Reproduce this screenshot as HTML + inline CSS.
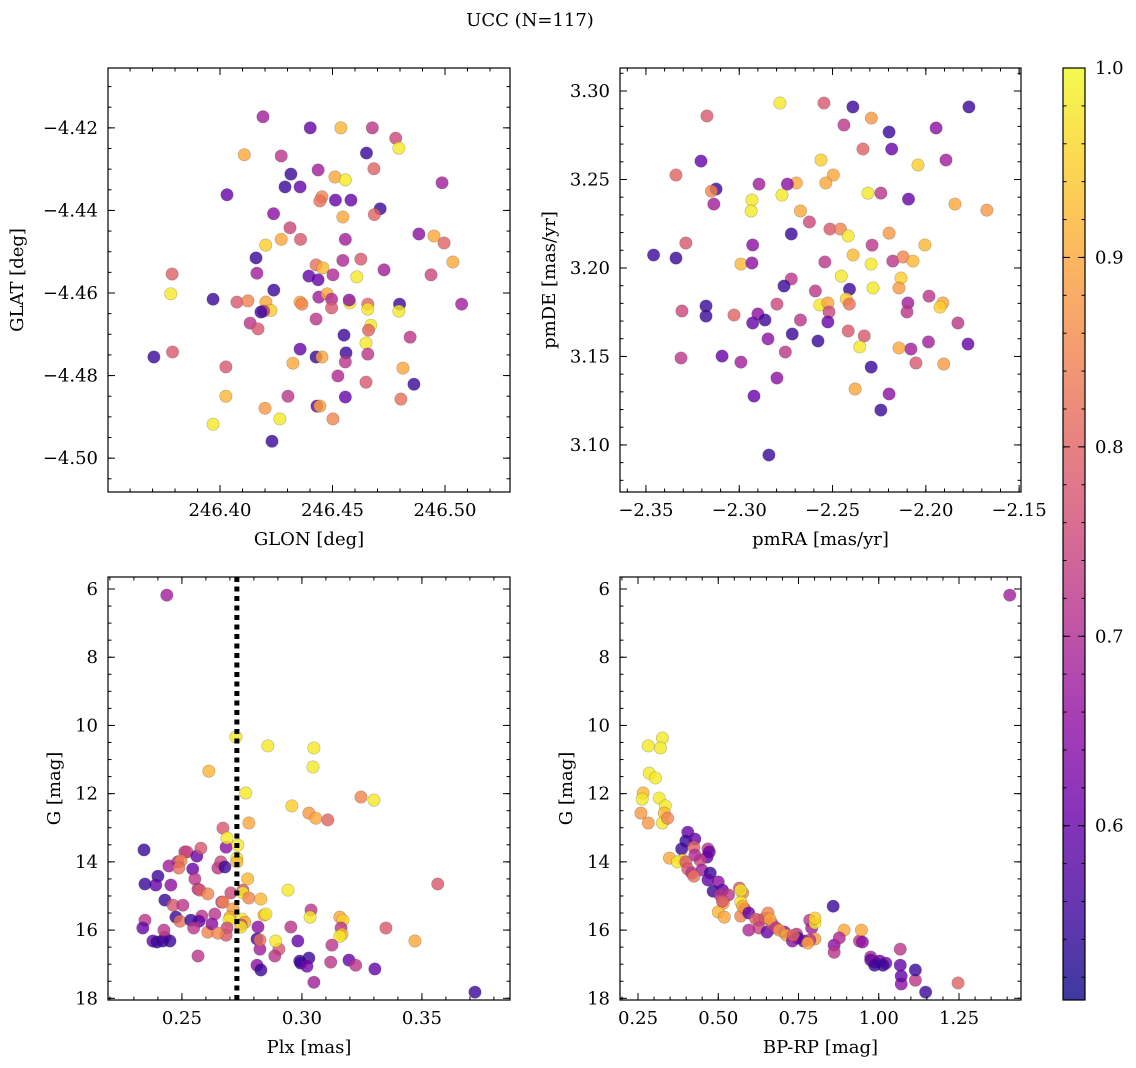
<!DOCTYPE html>
<html><head><meta charset="utf-8">
<style>
html,body{margin:0;padding:0;background:#fff;}
svg{display:block;font-family:"DejaVu Serif","Liberation Serif",serif;}
</style></head>
<body>
<svg id="fig" width="1136" height="1068" viewBox="0 0 1136 1068" xmlns="http://www.w3.org/2000/svg">
<defs>
<linearGradient id="cbgrad" x1="0" y1="1" x2="0" y2="0">
<stop offset="0" stop-color="#0d0887"/><stop offset="0.1" stop-color="#41049d"/><stop offset="0.2" stop-color="#6a00a8"/><stop offset="0.3" stop-color="#8f0da4"/><stop offset="0.4" stop-color="#b12a90"/><stop offset="0.5" stop-color="#cc4778"/><stop offset="0.6" stop-color="#e16462"/><stop offset="0.7" stop-color="#f2844b"/><stop offset="0.8" stop-color="#fca636"/><stop offset="0.9" stop-color="#fcce25"/><stop offset="1" stop-color="#f0f921"/>
</linearGradient>
</defs>
<text x="530" y="26" text-anchor="middle" font-size="18">UCC (N=117)</text>
</svg>
<script>
// ---------- Panel 1 data (GLON / GLAT) ----------
const p1Lon=[246.4191,246.4108,246.4272,246.4401,246.4537,246.4677,246.4781,246.4795,246.4651,246.4315,246.4289,246.4356,246.4436,246.4511,246.4557,246.4684,246.4031,246.4987,246.4453,246.4444,246.4513,246.4582,246.4712,246.4686,246.4238,246.4311,246.4272,246.4203,246.4358,246.4546,246.4557,246.4884,246.4996,246.4951,246.5035,246.4160,246.4164,246.4626,246.4546,246.4427,246.4457,246.4395,246.4436,246.4502,246.4608,246.4729,246.4938,246.3787,246.3781,246.3969,246.4075,246.4124,246.4204,246.4226,246.4239,246.4356,246.4364,246.4439,246.4476,246.4496,246.4577,246.4574,246.4657,246.4657,246.4798,246.4795,246.5074,246.4496,246.4427,246.4194,246.4134,246.4169,246.4182,246.4670,246.4660,246.4845,246.4551,246.4649,246.4356,246.3706,246.3789,246.4026,246.4324,246.4427,246.4453,246.4560,246.4557,246.4657,246.4813,246.4524,246.4649,246.4862,246.4026,246.4302,246.4557,246.4804,246.4431,246.4444,246.4200,246.4502,246.4266,246.3969,246.4231];
const p1Lat=[-4.4173,-4.4265,-4.4268,-4.42,-4.42,-4.42,-4.4225,-4.4249,-4.4261,-4.4312,-4.4343,-4.4343,-4.4302,-4.4319,-4.4326,-4.4299,-4.4362,-4.4333,-4.4367,-4.4377,-4.4375,-4.4375,-4.4396,-4.441,-4.4408,-4.4442,-4.447,-4.4484,-4.447,-4.4416,-4.447,-4.4457,-4.4479,-4.4462,-4.4525,-4.4515,-4.4552,-4.4518,-4.4521,-4.4532,-4.4539,-4.4559,-4.4568,-4.4556,-4.4561,-4.4544,-4.4556,-4.4554,-4.4602,-4.4615,-4.4622,-4.4619,-4.4622,-4.4642,-4.4593,-4.4622,-4.4627,-4.461,-4.4602,-4.4615,-4.4624,-4.4617,-4.4627,-4.4639,-4.4627,-4.4644,-4.4627,-4.4636,-4.4663,-4.4644,-4.4673,-4.4687,-4.4646,-4.4678,-4.469,-4.4707,-4.4702,-4.4721,-4.4736,-4.4755,-4.4743,-4.4779,-4.477,-4.4755,-4.4755,-4.4745,-4.4767,-4.4748,-4.4782,-4.4801,-4.4816,-4.4821,-4.485,-4.485,-4.4852,-4.4857,-4.4874,-4.4874,-4.4879,-4.4905,-4.4905,-4.4918,-4.4959];
const p1C=[0.68,0.9,0.72,0.6,0.92,0.72,0.75,0.98,0.55,0.55,0.55,0.6,0.68,0.9,0.98,0.8,0.6,0.68,0.85,0.82,0.6,0.6,0.55,0.8,0.65,0.75,0.9,0.95,0.78,0.9,0.68,0.65,0.8,0.9,0.9,0.55,0.68,0.78,0.7,0.82,0.92,0.6,0.6,0.7,0.98,0.68,0.75,0.8,0.98,0.55,0.78,0.85,0.9,0.95,0.55,0.9,0.85,0.68,0.9,0.7,0.98,0.65,0.8,0.98,0.55,0.98,0.68,0.78,0.72,0.72,0.72,0.78,0.55,0.98,0.8,0.72,0.55,0.98,0.6,0.55,0.78,0.78,0.9,0.55,0.9,0.55,0.72,0.72,0.9,0.7,0.78,0.55,0.92,0.72,0.6,0.82,0.6,0.9,0.88,0.85,0.98,0.98,0.55];

// ---------- Panel 2 data (pmRA / pmDE) ----------
const p2RA=[-2.2782,-2.2546,-2.2391,-2.2292,-2.1769,-2.3173,-2.2439,-2.2197,-2.1945,-2.2337,-2.2183,-2.3205,-2.2562,-2.1892,-2.2042,-2.3339,-2.2496,-2.3124,-2.3149,-2.3136,-2.2932,-2.2936,-2.2894,-2.2694,-2.2742,-2.2536,-2.2310,-2.2241,-2.2771,-2.2093,-2.1844,-2.1673,-2.2672,-2.2624,-2.2721,-2.2514,-2.2458,-2.2416,-2.2197,-2.2288,-2.2177,-2.2928,-2.3286,-2.3459,-2.3339,-2.2991,-2.2932,-2.2541,-2.2390,-2.2293,-2.2122,-2.2069,-2.2005,-2.2721,-2.2453,-2.2133,-2.2592,-2.2409,-2.2283,-2.2144,-2.2760,-2.2798,-2.3178,-2.3028,-2.2568,-2.2525,-2.2426,-2.2410,-2.2096,-2.1983,-2.1909,-2.1924,-2.3178,-2.3307,-2.2900,-2.2519,-2.2101,-2.2862,-2.2672,-2.2525,-2.1828,-2.2928,-2.2716,-2.2416,-2.2330,-2.2080,-2.2144,-2.1986,-2.1774,-2.2846,-2.2578,-2.2354,-2.3312,-2.3092,-2.2753,-2.2991,-2.2293,-2.2053,-2.1904,-2.2798,-2.2379,-2.2921,-2.2197,-2.2241,-2.2841];
const p2DE=[3.2932,3.2932,3.291,3.2847,3.291,3.2859,3.2808,3.2768,3.2791,3.2672,3.2672,3.2604,3.2610,3.261,3.2582,3.2525,3.2525,3.2446,3.2434,3.2361,3.2384,3.2322,3.2474,3.248,3.2474,3.248,3.2423,3.2423,3.2412,3.2389,3.2361,3.2327,3.2322,3.226,3.2192,3.222,3.222,3.2181,3.2197,3.2129,3.2039,3.2130,3.2141,3.2073,3.2056,3.2022,3.2028,3.2034,3.2073,3.2022,3.2062,3.2039,3.2130,3.1938,3.1954,3.1943,3.187,3.188,3.1887,3.1887,3.1898,3.1796,3.1785,3.1734,3.1791,3.1802,3.1825,3.1796,3.1802,3.1841,3.1802,3.1779,3.1728,3.1757,3.1740,3.1751,3.1751,3.1706,3.1706,3.1695,3.1689,3.1689,3.1627,3.1644,3.1616,3.1542,3.1548,3.1582,3.157,3.1599,3.1587,3.1554,3.1491,3.1502,3.1525,3.1468,3.144,3.1463,3.1457,3.1378,3.1316,3.1276,3.1288,3.1197,3.0943];
const p2C=[0.98,0.78,0.55,0.88,0.55,0.78,0.72,0.55,0.65,0.8,0.6,0.6,0.95,0.68,0.95,0.8,0.9,0.55,0.85,0.68,0.98,0.98,0.68,0.9,0.65,0.9,0.98,0.72,0.98,0.6,0.9,0.88,0.9,0.75,0.55,0.78,0.85,0.98,0.88,0.72,0.72,0.65,0.78,0.55,0.55,0.92,0.65,0.72,0.92,0.98,0.85,0.92,0.92,0.72,0.98,0.95,0.72,0.55,0.98,0.88,0.55,0.75,0.55,0.8,0.98,0.9,0.95,0.82,0.68,0.72,0.9,0.95,0.55,0.75,0.65,0.75,0.72,0.55,0.72,0.6,0.72,0.6,0.55,0.78,0.78,0.68,0.9,0.68,0.6,0.65,0.55,0.98,0.72,0.6,0.72,0.68,0.55,0.78,0.88,0.65,0.9,0.6,0.65,0.55,0.55];

// ---------- Panel 3 data (Plx / G) ----------
const p3Plx=[0.2437,0.2725,0.2858,0.3050,0.2612,0.3046,0.2766,0.2958,0.3029,0.3058,0.3246,0.3300,0.3108,0.2779,0.2671,0.2684,0.2688,0.2729,0.2729,0.2733,0.2342,0.2512,0.2521,0.2562,0.2579,0.2483,0.2446,0.2496,0.2400,0.2391,0.2346,0.2454,0.2545,0.2554,0.2650,0.2662,0.2679,0.2487,0.2567,0.2774,0.2429,0.2575,0.2608,0.2704,0.2754,0.2666,0.2671,0.2754,0.2779,0.2829,0.2463,0.2504,0.2713,0.2700,0.2696,0.2750,0.2762,0.2746,0.2583,0.2637,0.2475,0.2492,0.2571,0.2346,0.2337,0.2537,0.2549,0.2608,0.2625,0.2688,0.2684,0.2650,0.2746,0.2842,0.2850,0.2942,0.3038,0.3034,0.3158,0.3171,0.3163,0.3167,0.3158,0.3350,0.2954,0.2817,0.2813,0.2825,0.2904,0.2891,0.2825,0.2983,0.2379,0.2396,0.2429,0.2450,0.2420,0.2567,0.2425,0.2991,0.3029,0.2995,0.3021,0.2887,0.2813,0.2829,0.3125,0.3120,0.3196,0.3224,0.3304,0.3471,0.3566,0.3050,0.3721];
const p3G=[6.18,10.34,10.6,10.66,11.34,11.22,11.98,12.36,12.57,12.72,12.1,12.19,12.77,12.86,13.01,13.57,13.30,13.89,14.0,13.51,13.65,13.71,13.71,13.83,13.6,14.0,14.12,13.97,14.42,14.68,14.65,14.68,14.21,14.5,14.18,14.0,14.15,14.18,14.8,14.5,15.12,14.83,14.94,14.91,14.83,15.18,15.18,14.91,15.06,15.09,15.27,15.27,15.38,15.62,15.71,15.68,15.77,15.85,15.59,15.53,15.62,15.74,15.74,15.71,15.94,15.71,15.94,16.06,15.82,15.94,16.15,16.09,15.91,15.56,15.53,14.83,15.41,15.62,15.62,15.71,15.94,16.12,16.18,15.94,15.91,15.91,16.26,16.56,16.56,16.32,16.29,16.32,16.32,16.35,16.21,16.32,16.32,16.76,16.0,16.91,16.82,16.97,17.06,16.76,17.03,17.17,16.44,16.94,16.88,17.03,17.14,16.32,14.65,17.53,17.82];
const p3C=[0.68,0.98,0.98,0.98,0.92,0.98,0.98,0.95,0.88,0.9,0.85,0.98,0.8,0.9,0.78,0.65,0.98,0.98,0.92,0.98,0.55,0.72,0.75,0.6,0.78,0.72,0.68,0.85,0.55,0.6,0.55,0.65,0.6,0.72,0.72,0.75,0.55,0.82,0.72,0.92,0.55,0.78,0.85,0.75,0.78,0.72,0.85,0.98,0.85,0.92,0.78,0.72,0.88,0.9,0.98,0.98,0.9,0.75,0.72,0.72,0.55,0.82,0.6,0.72,0.6,0.55,0.72,0.85,0.65,0.75,0.78,0.85,0.98,0.9,0.98,0.98,0.72,0.98,0.9,0.95,0.72,0.92,0.98,0.78,0.72,0.65,0.55,0.68,0.78,0.98,0.82,0.6,0.6,0.55,0.72,0.55,0.55,0.72,0.72,0.55,0.55,0.55,0.62,0.72,0.65,0.55,0.72,0.72,0.6,0.72,0.6,0.9,0.78,0.68,0.55];
const plxLine=0.2729;

// ---------- Panel 4 data (BP-RP / G) ----------
const p4BR=[1.408,0.282,0.326,0.32,0.285,0.304,0.266,0.263,0.316,0.335,0.332,0.259,0.326,0.282,0.342,0.405,0.399,0.427,0.386,0.468,0.472,0.424,0.465,0.443,0.427,0.389,0.348,0.373,0.399,0.405,0.449,0.418,0.424,0.475,0.468,0.5,0.513,0.484,0.506,0.532,0.576,0.566,0.57,0.516,0.5,0.513,0.519,0.57,0.582,0.57,0.576,0.627,0.595,0.617,0.646,0.627,0.595,0.652,0.668,0.655,0.661,0.68,0.706,0.69,0.712,0.744,0.747,0.731,0.734,0.785,0.791,0.801,0.801,0.801,0.766,0.785,0.779,0.858,0.861,0.861,0.892,0.94,0.946,0.975,0.975,0.987,1.003,1.022,1.013,0.987,1.067,1.067,1.07,1.07,1.146,1.247,1.114,1.114,0.949,0.877];
const p4G=[6.18,10.6,10.37,10.66,11.4,11.54,11.98,12.16,12.13,12.36,12.57,12.57,12.86,12.86,12.72,13.13,13.39,13.33,13.62,13.62,13.71,13.57,13.86,13.95,13.8,13.95,13.89,14.0,14.0,14.21,14.24,14.33,14.42,14.33,14.53,14.59,14.83,14.86,14.97,14.97,14.91,14.77,14.83,15.21,15.47,15.15,15.62,15.18,15.38,15.59,15.3,15.71,15.5,15.68,15.65,15.94,16.0,16.06,15.82,15.5,15.68,15.94,16.06,16.0,16.15,16.12,16.23,16.32,16.15,15.71,15.94,15.79,15.65,16.26,16.32,16.29,16.38,15.3,16.44,16.65,16.0,16.32,16.0,16.79,16.88,16.94,16.91,16.97,17.03,17.03,16.56,17.03,17.58,17.35,17.82,17.55,17.47,17.17,16.35,16.23];
const p4C=[0.68,0.98,0.98,0.98,0.98,0.98,0.92,0.98,0.98,0.98,0.92,0.88,0.98,0.88,0.85,0.6,0.55,0.6,0.55,0.72,0.6,0.8,0.6,0.75,0.7,0.95,0.9,0.98,0.78,0.78,0.68,0.72,0.82,0.55,0.6,0.65,0.6,0.55,0.72,0.72,0.85,0.78,0.98,0.9,0.92,0.78,0.9,0.98,0.72,0.85,0.9,0.72,0.6,0.8,0.78,0.75,0.7,0.6,0.75,0.85,0.9,0.72,0.65,0.88,0.9,0.72,0.55,0.65,0.8,0.72,0.68,0.98,0.95,0.88,0.6,0.72,0.9,0.55,0.65,0.72,0.9,0.72,0.9,0.68,0.6,0.65,0.6,0.62,0.55,0.55,0.72,0.6,0.65,0.6,0.55,0.8,0.72,0.55,0.65,0.7];

// ---------- colour scale ----------
const cbTicks=[0.6,0.7,0.8,0.9,1.0];
const VMIN=0.508, VMAX=1.0;
const plasma=[[13,8,135],[65,4,157],[106,0,168],[143,13,164],[177,42,144],[204,71,120],[225,100,98],[242,132,75],[252,166,54],[252,206,37],[240,249,33]];
function cmap(v){let t=(v-VMIN)/(VMAX-VMIN);t=Math.max(0,Math.min(1,t))*10;let i=Math.min(9,Math.floor(t)),f=t-i;const a=plasma[i],b=plasma[i+1];return 'rgb('+a.map((c,k)=>Math.round(c+(b[k]-c)*f)).join(',')+')';}

const NS='http://www.w3.org/2000/svg';
const svg=document.getElementById('fig');
function el(tag,attrs,parent){const e=document.createElementNS(NS,tag);for(const k in attrs)e.setAttribute(k,attrs[k]);(parent||svg).appendChild(e);return e;}
function fmt(v,d){const s=Math.abs(v).toFixed(d);return (v<-1e-9?'\u2212':'')+s;}
const FS=18;

function panel(cfg){
  const g=el('g',{});
  
  
  const sx=v=>cfg.px0+(v-cfg.xd[0])/(cfg.xd[1]-cfg.xd[0])*(cfg.px1-cfg.px0);
  const sy=v=>cfg.py0+(v-cfg.yd[0])/(cfg.yd[1]-cfg.yd[0])*(cfg.py1-cfg.py0);
  const pts=el('g',{},g);
  
  
  for(let i=0;i<cfg.xs.length;i++){
    const c=el('circle',{cx:sx(cfg.xs[i]),cy:sy(cfg.ys[i]),r:6.2,fill:cmap(cfg.cs[i]),'fill-opacity':0.8,stroke:'rgba(60,60,60,0.35)','stroke-width':0.6},pts);
    
    
  }
  const top=Math.min(cfg.py0,cfg.py1),bot=Math.max(cfg.py0,cfg.py1);
  if(cfg.vline!==undefined){
    const l=el('line',{x1:sx(cfg.vline),x2:sx(cfg.vline),y1:top,y2:bot,stroke:'#000','stroke-width':5,'stroke-dasharray':'5 4.5'},g);
    
    
  }
  const fr=el('rect',{x:cfg.px0,y:top,width:cfg.px1-cfg.px0,height:bot-top,fill:'none',stroke:'#000','stroke-width':1.2},g);
  
  
  const tk=el('g',{stroke:'#000','stroke-width':1},g);
  function xt(v,len){const x=sx(v);if(x<cfg.px0-0.5||x>cfg.px1+0.5)return;el('line',{x1:x,x2:x,y1:bot,y2:bot-len},tk);el('line',{x1:x,x2:x,y1:top,y2:top+len},tk);}
  function yt(v,len){const y=sy(v);if(y<top-0.5||y>bot+0.5)return;el('line',{x1:cfg.px0,x2:cfg.px0+len,y1:y,y2:y},tk);el('line',{x1:cfg.px1,x2:cfg.px1-len,y1:y,y2:y},tk);}
  const xlo=Math.min(...cfg.xd),xhi=Math.max(...cfg.xd),ylo=Math.min(...cfg.yd),yhi=Math.max(...cfg.yd);
  for(let k=Math.ceil(xlo/cfg.xmin-1e-6);k*cfg.xmin<=xhi;k++)xt(k*cfg.xmin,3.5);
  for(let k=Math.ceil(ylo/cfg.ymin-1e-6);k*cfg.ymin<=yhi;k++)yt(k*cfg.ymin,3.5);
  cfg.xticks.forEach(v=>{xt(v,7);const t=el('text',{x:sx(v),y:bot+24,'text-anchor':'middle','font-size':FS},g);t.textContent=fmt(v,cfg.xdec);});
  cfg.yticks.forEach(v=>{yt(v,7);const t=el('text',{x:cfg.px0-10,y:sy(v)+6,'text-anchor':'end','font-size':FS},g);t.textContent=fmt(v,cfg.ydec);});
  const xl=el('text',{x:(cfg.px0+cfg.px1)/2,y:bot+53,'text-anchor':'middle','font-size':FS},g);xl.textContent=cfg.xlabel;
  
  
  const yl=el('text',{x:0,y:0,'text-anchor':'middle','font-size':FS,transform:'translate('+cfg.ylx+','+(top+bot)/2+') rotate(-90)'},g);yl.textContent=cfg.ylabel;
  
  
}

panel({name:'glon-glat-panel',px0:108,px1:510,py0:68,py1:492,xd:[246.3502,246.5289],yd:[-4.4055,-4.5082],xs:p1Lon,ys:p1Lat,cs:p1C,xticks:[246.40,246.45,246.50],yticks:[-4.42,-4.44,-4.46,-4.48,-4.50],xmin:0.01,ymin:0.005,xdec:2,ydec:2,xlabel:'GLON [deg]',ylabel:'GLAT [deg]',ylx:23});
panel({name:'proper-motion-panel',px0:620,px1:1021,py0:68,py1:492,xd:[-2.3639,-2.1490],yd:[3.313,3.0734],xs:p2RA,ys:p2DE,cs:p2C,xticks:[-2.35,-2.30,-2.25,-2.20,-2.15],yticks:[3.10,3.15,3.20,3.25,3.30],xmin:0.01,ymin:0.01,xdec:2,ydec:2,xlabel:'pmRA [mas/yr]',ylabel:'pmDE [mas/yr]',ylx:555});
panel({name:'parallax-mag-panel',px0:108,px1:510,py0:577,py1:1000,xd:[0.2192,0.3867],yd:[5.648,18.05],xs:p3Plx,ys:p3G,cs:p3C,xticks:[0.25,0.30,0.35],yticks:[6,8,10,12,14,16,18],xmin:0.01,ymin:0.5,xdec:2,ydec:0,xlabel:'Plx [mas]',ylabel:'G [mag]',ylx:60,vline:plxLine});
panel({name:'cmd-panel',px0:620,px1:1021,py0:577,py1:1000,xd:[0.1939,1.4431],yd:[5.648,18.05],xs:p4BR,ys:p4G,cs:p4C,xticks:[0.25,0.50,0.75,1.00,1.25],yticks:[6,8,10,12,14,16,18],xmin:0.05,ymin:0.5,xdec:2,ydec:0,xlabel:'BP-RP [mag]',ylabel:'G [mag]',ylx:572});

// ---------- colorbar ----------
(function(){
  const g=el('g',{});
  
  
  const x0=1063,w=22,yt=68,yb=1000;
  const cy=v=>yb-(v-VMIN)/(VMAX-VMIN)*(yb-yt);
  el('rect',{x:x0,y:yt,width:w,height:yb-yt,fill:'url(#cbgrad)','fill-opacity':0.8},g);
  el('rect',{x:x0,y:yt,width:w,height:yb-yt,fill:'none',stroke:'#000','stroke-width':1.2},g);
  for(let k=26;k<=50;k++){const v=k*0.02;const y=cy(v);el('line',{x1:x0+w,x2:x0+w-3.5,y1:y,y2:y,stroke:'#000'},g);el('line',{x1:x0,x2:x0+3.5,y1:y,y2:y,stroke:'#000'},g);}
  cbTicks.forEach(v=>{const y=cy(v);el('line',{x1:x0+w,x2:x0+w-7,y1:y,y2:y,stroke:'#000'},g);el('line',{x1:x0,x2:x0+7,y1:y,y2:y,stroke:'#000'},g);
    const t=el('text',{x:x0+w+10,y:y+6,'font-size':FS},g);t.textContent=v.toFixed(1);
    
    });
})();
</script>
</body></html>
